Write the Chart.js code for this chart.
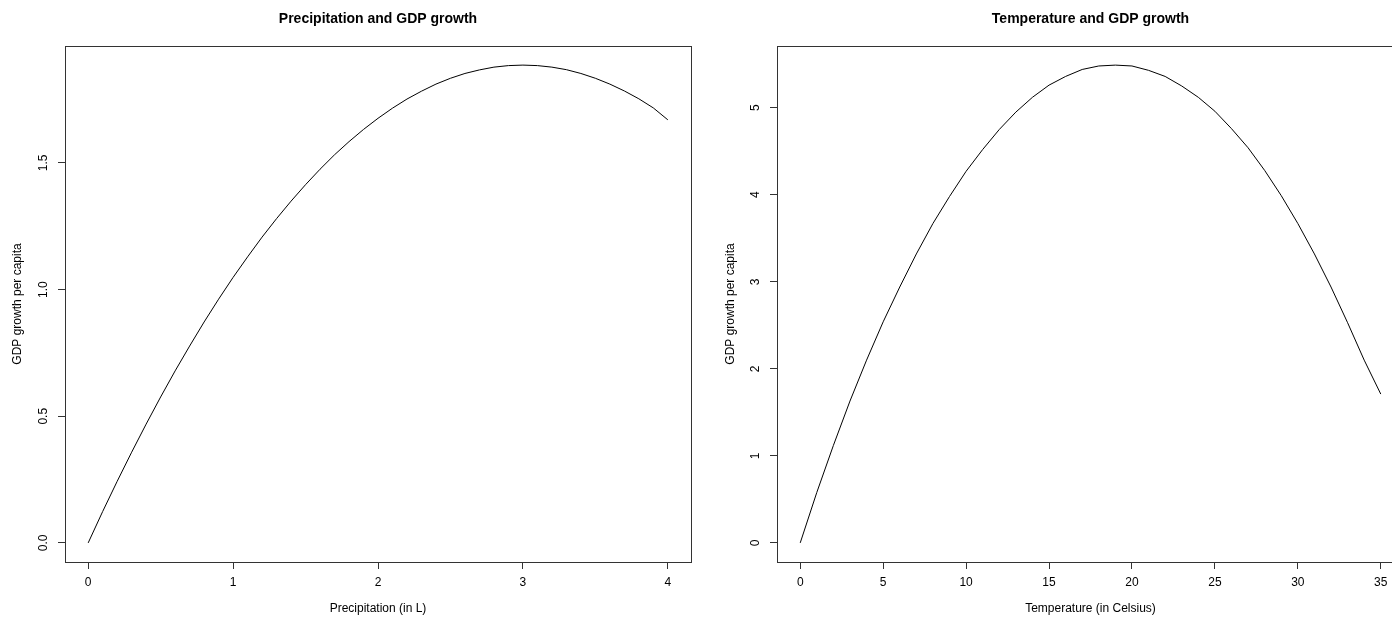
<!DOCTYPE html>
<html><head><meta charset="utf-8">
<script src="https://cdn.jsdelivr.net/npm/chart.js@4/dist/chart.umd.min.js"></script>
<style>
html,body{margin:0;padding:0;background:#fff;width:1392px;height:617px;overflow:hidden;position:relative}
#c1{position:absolute;left:0;top:0;}
#c2{position:absolute;left:696px;top:0;}
</style></head><body>
<canvas id="c1" width="696" height="617"></canvas>
<canvas id="c2" width="720" height="617"></canvas>
<script>
// ---- data ----
const precipitation = [0.0,0.1,0.2,0.3,0.4,0.5,0.6,0.7,0.8,0.9,1.0,1.1,1.2,1.3,1.4,1.5,1.6,1.7,1.8,1.9,2.0,
  2.1,2.2,2.3,2.4,2.5,2.6,2.7,2.8,2.9,3.0,3.1,3.2,3.3,3.4,3.5,3.6,3.7,3.8,3.9,4.0];
const gdpByPrecip = [0.000,0.124,0.243,0.358,0.469,0.576,0.679,0.777,0.872,0.962,1.048,1.129,1.207,1.280,1.349,1.414,
  1.475,1.532,1.584,1.632,1.676,1.716,1.752,1.783,1.811,1.834,1.853,1.867,1.878,1.884,1.886,1.884,1.878,1.868,1.853,
  1.834,1.811,1.784,1.753,1.717,1.670];
const temperature = [0,1,2,3,4,5,6,7,8,9,10,11,12,13,14,15,16,17,18,19,20,21,22,23,24,25,26,27,28,29,30,31,32,33,34,35];
const gdpByTemp = [0.00,0.58,1.12,1.63,2.10,2.54,2.94,3.32,3.67,3.98,4.27,4.52,4.75,4.95,5.12,5.26,5.36,5.44,5.48,5.49,
  5.48,5.43,5.36,5.25,5.12,4.96,4.76,4.54,4.28,3.99,3.67,3.32,2.94,2.53,2.10,1.71];
const precipXTicks = [0,1,2,3,4];
const precipYTicks = [0,0.5,1.0,1.5];
const tempXTicks = [0,5,10,15,20,25,30,35];
const tempYTicks = [0,1,2,3,4,5];

const FONT = '"Liberation Sans", Arial, sans-serif';

const framePlugin = {
  id: 'frame',
  afterDraw(chart, args, opts) {
    const {ctx, chartArea: a} = chart;
    ctx.save();
    ctx.strokeStyle = '#333';
    ctx.lineWidth = 1;
    ctx.strokeRect(Math.round(a.left) + 0.5, Math.round(a.top) + 0.5,
      Math.round(a.right) - Math.round(a.left), Math.round(a.bottom) - Math.round(a.top));
    ctx.fillStyle = '#000';
    ctx.font = 'bold 14px ' + FONT;
    ctx.textAlign = 'center';
    ctx.textBaseline = 'middle';
    ctx.fillText(opts.title, (a.left + a.right) / 2, opts.titleY);
    const ys = chart.scales.y;
    ctx.font = '12px ' + FONT;
    ys.ticks.forEach(t => {
      const py = ys.getPixelForValue(t.value);
      ctx.save();
      ctx.translate(a.left - opts.yLabelOffset, py);
      ctx.rotate(-Math.PI / 2);
      ctx.fillText(opts.yFmt(t.value), 0, 0);
      ctx.restore();
    });
    ctx.restore();
  }
};

function makeChart(id, xs, ys, cfg) {
  const pts = xs.map((x, i) => ({x: x, y: ys[i]}));
  return new Chart(document.getElementById(id), {
    type: 'line',
    data: { datasets: [{ data: pts, borderColor: '#000', borderWidth: 1, pointRadius: 0, tension: 0, fill: false }] },
    plugins: [framePlugin],
    options: {
      responsive: false,
      animation: false,
      layout: { padding: cfg.padding },
      plugins: {
        legend: { display: false },
        tooltip: { enabled: false },
        title: { display: false },
        frame: { title: cfg.title, titleY: 19, yLabelOffset: 21, yFmt: cfg.yFmt }
      },
      scales: {
        x: {
          type: 'linear', min: cfg.xMin, max: cfg.xMax,
          afterBuildTicks: s => { s.ticks = cfg.xTicks.map(v => ({value: v})); },
          afterFit: s => { s.height = 55; s.paddingLeft = 0; s.paddingRight = 0; },
          border: { display: false },
          grid: { drawOnChartArea: false, drawTicks: true, tickLength: 7, tickColor: '#333', lineWidth: 1 },
          ticks: { color: '#000', font: { size: 12, family: FONT }, padding: 6, maxRotation: 0, autoSkip: false,
                   callback: v => String(v) },
          title: { display: true, text: cfg.xTitle, color: '#000', font: { size: 12, family: FONT }, padding: { top: 0, bottom: 1 } }
        },
        y: {
          type: 'linear', min: cfg.yMin, max: cfg.yMax,
          afterBuildTicks: s => { s.ticks = cfg.yTicks.map(v => ({value: v})); },
          afterFit: s => { s.width = cfg.yWidth; s.paddingTop = 0; s.paddingBottom = 0; },
          border: { display: false },
          grid: { drawOnChartArea: false, drawTicks: true, tickLength: 7, tickColor: '#333', lineWidth: 1 },
          ticks: { display: false },
          title: { display: true, text: 'GDP growth per capita', color: '#000', font: { size: 12, family: FONT }, padding: { top: cfg.yTitlePad, bottom: 0 } }
        }
      }
    }
  });
}

makeChart('c1', precipitation, gdpByPrecip, {
  title: 'Precipitation and GDP growth', xTitle: 'Precipitation (in L)',
  xMin: -0.16, xMax: 4.16, yMin: -0.0754, yMax: 1.9614,
  xTicks: precipXTicks, yTicks: precipYTicks, yFmt: v => v.toFixed(1),
  yWidth: 65, yTitlePad: 10, padding: { left: 0, right: 5, top: 46, bottom: 0 }
});
makeChart('c2', temperature, gdpByTemp, {
  title: 'Temperature and GDP growth', xTitle: 'Temperature (in Celsius)',
  xMin: -1.4, xMax: 36.4, yMin: -0.2196, yMax: 5.7096,
  xTicks: tempXTicks, yTicks: tempYTicks, yFmt: v => String(v),
  yWidth: 81, yTitlePad: 27, padding: { left: 0, right: 12, top: 46, bottom: 0 }
});
</script>
</body></html>
